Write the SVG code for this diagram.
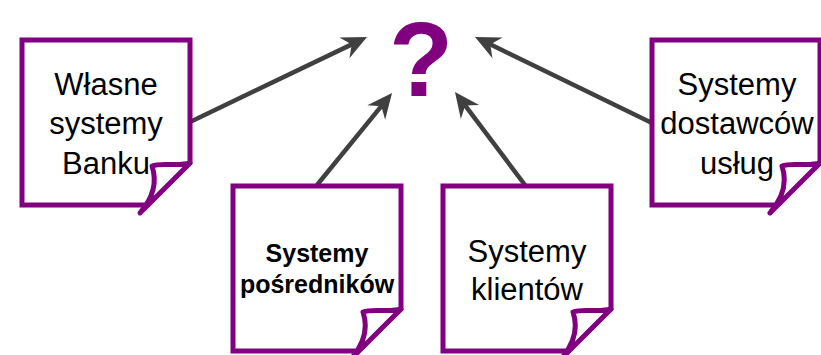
<svg xmlns="http://www.w3.org/2000/svg" width="821" height="355" viewBox="0 0 821 355">
<defs>
<style>
.page{fill:#fff;stroke:#800080;stroke-width:5;stroke-linejoin:miter}
.flap{fill:#fff;stroke:#800080;stroke-width:5;stroke-linejoin:round}
.t{font-family:"Liberation Sans",Arial,sans-serif;font-size:31px;fill:#000;text-anchor:middle}
.tb{font-family:"Liberation Sans",Arial,sans-serif;font-size:25px;font-weight:bold;fill:#000;text-anchor:middle}
.conn{stroke:#404040;stroke-width:4.5;fill:none;marker-end:url(#ah)}
</style>
<marker id="ah" markerUnits="userSpaceOnUse" viewBox="-26 -13 28 26" markerWidth="28" markerHeight="26" refX="-14" refY="0" orient="auto">
<path d="M0,0 L-25,-11.5 L-17,0 L-25,11.5 Z" fill="#404040"/>
</marker>
</defs>
<g id="connectors">
<line class="conn" x1="190" y1="122" x2="354.4" y2="43.1"/>
<line class="conn" x1="317" y1="185" x2="383.2" y2="103.9"/>
<line class="conn" x1="525" y1="185" x2="463.4" y2="103.2"/>
<line class="conn" x1="652" y1="123" x2="487.6" y2="43.1"/>
</g>
<g id="question">
<text x="421" y="96" font-family="Liberation Sans, Arial, sans-serif" font-size="105" font-weight="bold" fill="#800080" text-anchor="middle">?</text>
</g>
<g id="bank" transform="translate(22,40)">
<path class="page" d="M0,0 H168 V123 L125,165 H0 Z"/>
<text class="t" x="84" y="55">Własne</text>
<text class="t" x="84" y="94">systemy</text>
<text class="t" x="84" y="134">Banku</text>
<path class="flap" d="M168,123 C155,127 140,122 130,126 Q138,150 118,173 Z"/>
</g>
<g id="posrednicy" transform="translate(233,186)">
<path class="page" d="M0,0 H168 V123 L125,165 H0 Z"/>
<text class="tb" x="84" y="76">Systemy</text>
<text class="tb" x="84" y="107">pośredników</text>
<path class="flap" d="M168,123 C155,127 140,122 130,126 Q138,150 118,173 Z"/>
</g>
<g id="klienci" transform="translate(443,186)">
<path class="page" d="M0,0 H168 V123 L125,165 H0 Z"/>
<text class="t" x="84" y="76">Systemy</text>
<text class="t" x="84" y="114">klientów</text>
<path class="flap" d="M168,123 C155,127 140,122 130,126 Q138,150 118,173 Z"/>
</g>
<g id="dostawcy" transform="translate(652,40)">
<path class="page" d="M0,0 H168 V123 L125,165 H0 Z"/>
<text class="t" x="85" y="55">Systemy</text>
<text class="t" x="85" y="94">dostawców</text>
<text class="t" x="85" y="134">usług</text>
<path class="flap" d="M168,123 C155,127 140,122 130,126 Q138,150 118,173 Z"/>
</g>
</svg>
